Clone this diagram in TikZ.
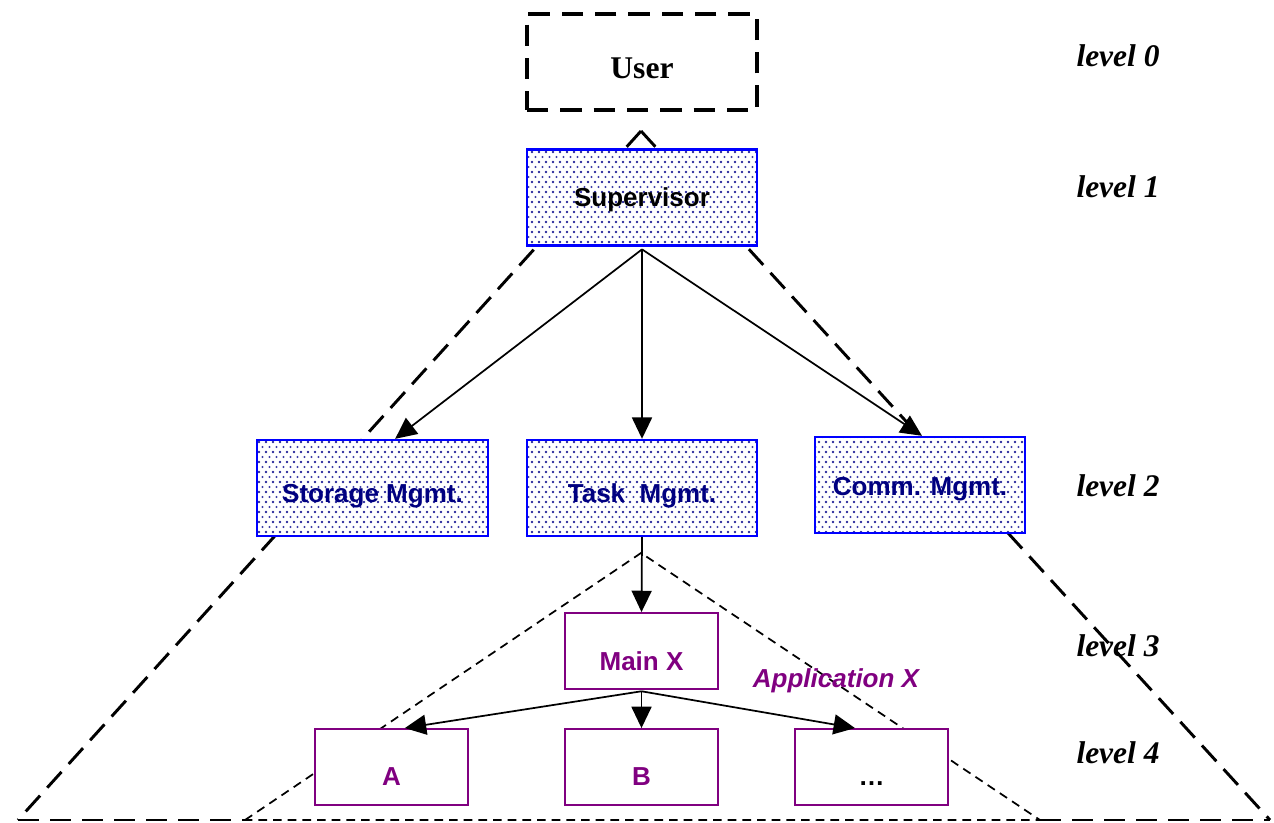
\documentclass[tikz,border=0pt]{standalone}
\usepackage{fontspec}
\setmainfont{Liberation Serif}
\newfontfamily\sansf{Liberation Sans}
\usetikzlibrary{patterns,arrows.meta}

\definecolor{boxblue}{RGB}{0,0,255}
\definecolor{labnavy}{RGB}{0,0,128}
\definecolor{apppurple}{RGB}{128,0,128}
\definecolor{dotblue}{RGB}{60,60,165}

% staggered dot raster used inside the system modules
\pgfdeclarepatternformonly{boxdots}{\pgfqpoint{-1.2pt}{-1.2pt}}{\pgfqpoint{6.45pt}{8.7pt}}{\pgfqpoint{5.25pt}{7.5pt}}{%
  \pgfpathcircle{\pgfqpoint{0pt}{0pt}}{0.85pt}
  \pgfpathcircle{\pgfqpoint{5.25pt}{0pt}}{0.85pt}
  \pgfpathcircle{\pgfqpoint{0pt}{7.5pt}}{0.85pt}
  \pgfpathcircle{\pgfqpoint{5.25pt}{7.5pt}}{0.85pt}
  \pgfpathcircle{\pgfqpoint{2.625pt}{3.75pt}}{0.85pt}
  \pgfusepath{fill}
}

\begin{document}
\begin{tikzpicture}[x=0.75pt,y=-0.75pt,
  sysbox/.style={draw=boxblue, line width=1.8pt, preaction={fill=white},
    pattern=boxdots, pattern color=dotblue, inner sep=0pt,
    minimum width=172.5pt, minimum height=72pt},
  appbox/.style={draw=apppurple, line width=1.4pt, fill=white, inner sep=0pt,
    minimum width=114.75pt, minimum height=57pt},
  systext/.style={font=\sansf\bfseries\fontsize{19.5}{23}\selectfont, text=labnavy},
  apptext/.style={font=\sansf\bfseries\fontsize{19.5}{23}\selectfont, text=apppurple},
  lvl/.style={font=\bfseries\itshape\fontsize{23.6}{28}\selectfont},
  conn/.style={line width=1.3pt, -{Triangle[length=16pt,width=15pt]}},
  bigdash/.style={line width=2.2pt, dash pattern=on 16pt off 8pt},
  smalldash/.style={line width=1.3pt, dash pattern=on 6.5pt off 4.5pt}]

\useasboundingbox (0,0) rectangle (1274,822);

% layer outlines: the whole system and application X
\coordinate (sysapex) at (641,131);
\coordinate (sysleft) at (18,820);
\coordinate (sysright) at (1270,820);
\coordinate (appapex) at (641,553);
\coordinate (appleft) at (245,820);
\coordinate (appright) at (1040,820);

\draw[bigdash] (sysapex) -- (sysleft);
\draw[bigdash] (sysapex) -- (sysright);
\draw[bigdash] (sysleft) -- (appleft);
\draw[bigdash] (appright) -- (sysright);
\draw[smalldash] (appleft) -- (appapex) -- (appright) -- cycle;

% level 0
\node[draw, line width=2.6pt, dash pattern=on 16pt off 9pt, fill=white,
      minimum width=172.5pt, minimum height=72pt, inner sep=0pt,
      label={[font=\bfseries\fontsize{23.7}{28}\selectfont, yshift=-5pt]center:User}]
      (user) at (642,62) {};

% level 1
\node[sysbox, label={[systext, text=black, yshift=-2pt]center:Supervisor}]
      (sup) at (642,197.5) {};

% level 2
\node[sysbox, minimum width=173.25pt, label={[systext, yshift=-6pt]center:Storage Mgmt.}]
      (stor) at (372.5,488) {};
\node[sysbox, label={[systext, yshift=-6pt]center:Task\ \ Mgmt.}]
      (task) at (642,488) {};
\node[sysbox, minimum width=157.5pt, label={[systext, yshift=-3pt]center:Comm. Mgmt.}]
      (comm) at (920,485) {};

% levels 3 and 4
\node[appbox, label={[apptext, yshift=-8pt]center:Main X}] (mainx) at (641.5,651) {};
\node[appbox, label={[apptext, yshift=-7.5pt]center:A}] (appa) at (391.5,767) {};
\node[appbox, label={[apptext, yshift=-7.5pt]center:B}] (appb) at (641.5,767) {};
\node[appbox, label={[font=\sansf\bfseries\fontsize{19.5}{23}\selectfont, yshift=-12.5pt]center:…}]
      (appmore) at (871.5,767) {};

\node[apptext, font=\sansf\bfseries\itshape\fontsize{19.5}{23}\selectfont] (appx) at (836,681) {Application X};

% call structure
\draw[conn] ([yshift=-2pt]sup.south) -- ([xshift=17pt]stor.north);
\draw[conn] ([yshift=-2pt]sup.south) -- (task.north);
\draw[conn] ([yshift=-2pt]sup.south) -- ([xshift=1.5pt]comm.north);
\draw[conn] (task.south) -- (mainx.north);
\draw[conn] ([yshift=-1pt]mainx.south) -- ([xshift=10pt]appa.north);
\draw[conn] ([yshift=-1pt]mainx.south) -- (appb.north);
\draw[conn] ([yshift=-1pt]mainx.south) -- ([xshift=-12.4pt]appmore.north);

% level markers
\node[lvl] (lv0) at (1118,56) {level 0};
\node[lvl] (lv1) at (1118,187) {level 1};
\node[lvl] (lv2) at (1118,486) {level 2};
\node[lvl] (lv3) at (1118,646) {level 3};
\node[lvl] (lv4) at (1118,753) {level 4};

\end{tikzpicture}
\end{document}
